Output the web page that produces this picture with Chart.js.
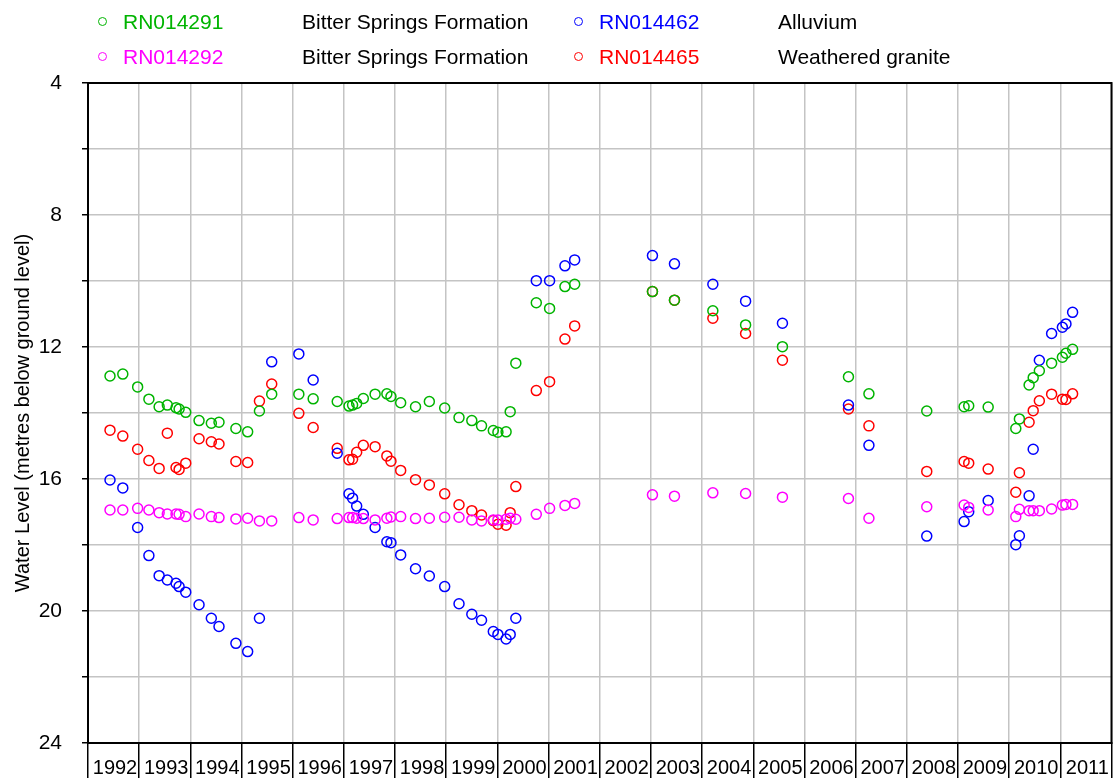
<!DOCTYPE html>
<html>
<head>
<meta charset="utf-8">
<title>Water Level</title>
<script src="https://cdn.jsdelivr.net/npm/chart.js@4"></script>
<style>
  body { margin: 0; background: #fff; }
  #wrap { position: relative; width: 1118px; height: 783px; font-family: "Liberation Sans", Arial, sans-serif; }
  canvas { position: absolute; left: 0; top: 0; }
  .lg { position: absolute; font-size: 21px; line-height: 24px; white-space: nowrap; color: #000; }
  .dot { position: absolute; width: 7px; height: 7px; border: 1.5px solid; border-radius: 50%; }
</style>
</head>
<body>
<div id="wrap">
  <canvas id="chart" width="1118" height="783"></canvas>
  <div id="legend"></div>
</div>
<script>
// fechas de medicion (año decimal)
const fechas = [
  1992.43, 1992.68, 1992.97, 1993.19, 1993.39, 1993.55, 1993.72, 1993.78, 1993.91, 1994.17,
  1994.41, 1994.56, 1994.89, 1995.12, 1995.35, 1995.59, 1996.12, 1996.40, 1996.87, 1997.10,
  1997.17, 1997.25, 1997.38, 1997.61, 1997.84, 1997.92, 1998.11, 1998.40, 1998.67, 1998.97,
  1999.25, 1999.50, 1999.69, 1999.92, 2000.01, 2000.17, 2000.25, 2000.36, 2000.76, 2001.02,
  2001.32, 2001.51, 2003.03, 2003.46, 2004.21, 2004.85, 2005.57, 2006.86, 2007.26, 2008.39,
  2009.12, 2009.21, 2009.59, 2010.13, 2010.20, 2010.39, 2010.47, 2010.59, 2010.83, 2011.04,
  2011.11, 2011.24
];

// nivel (metros bajo el suelo) por pozo
const rn014291 = [
  12.88, 12.82, 13.21, 13.58, 13.81, 13.76, 13.84, 13.88, 13.98, 14.23,
  14.31, 14.28, 14.47, 14.57, 13.94, 13.43, 13.43, 13.57, 13.65, 13.79,
  13.76, 13.71, 13.56, 13.43, 13.42, 13.50, 13.69, 13.81, 13.65, 13.85,
  14.14, 14.23, 14.39, 14.53, 14.58, 14.57, 13.96, 12.49, 10.66, 10.83,
  10.17, 10.10, 10.32, 10.58, 10.90, 11.33, 11.99, 12.90, 13.42, 13.94,
  13.81, 13.78, 13.82, 14.47, 14.18, 13.15, 12.93, 12.72, 12.49, 12.31,
  12.19, 12.07
];
const rn014292 = [
  16.94, 16.94, 16.89, 16.94, 17.02, 17.06, 17.06, 17.07, 17.14, 17.06,
  17.14, 17.17, 17.21, 17.19, 17.27, 17.27, 17.17, 17.24, 17.20, 17.17,
  17.17, 17.19, 17.20, 17.24, 17.19, 17.15, 17.14, 17.20, 17.19, 17.16,
  17.16, 17.24, 17.27, 17.24, 17.24, 17.22, 17.19, 17.22, 17.07, 16.89,
  16.80, 16.74, 16.48, 16.52, 16.42, 16.44, 16.55, 16.59, 17.19, 16.84,
  16.79, 16.86, 16.94, 17.14, 16.92, 16.96, 16.96, 16.96, 16.91, 16.79,
  16.77, 16.77
];
const rn014462 = [
  16.03, 16.27, 17.47, 18.32, 18.93, 19.06, 19.16, 19.26, 19.43, 19.81,
  20.22, 20.47, 20.98, 21.23, 20.22, 12.45, 12.21, 13.00, 15.22, 16.45,
  16.58, 16.82, 17.07, 17.47, 17.90, 17.93, 18.30, 18.72, 18.94, 19.26,
  19.78, 20.10, 20.28, 20.62, 20.71, 20.85, 20.71, 20.22, 9.99, 9.99,
  9.54, 9.36, 9.23, 9.48, 10.10, 10.61, 11.28, 13.76, 14.98, 17.73,
  17.29, 16.99, 16.65, 17.99, 17.72, 16.51, 15.10, 12.40, 11.59, 11.40,
  11.30, 10.95
];
const rn014465 = [
  14.52, 14.70, 15.10, 15.44, 15.68, 14.61, 15.65, 15.71, 15.52, 14.78,
  14.87, 14.94, 15.47, 15.50, 13.64, 13.12, 14.01, 14.44, 15.07, 15.42,
  15.40, 15.19, 14.98, 15.02, 15.30, 15.46, 15.74, 16.02, 16.18, 16.45,
  16.78, 16.96, 17.09, 17.26, 17.37, 17.40, 17.02, 16.23, 13.32, 13.05,
  11.76, 11.36, 10.32, 10.58, 11.13, 11.59, 12.40, 13.88, 14.39, 15.77,
  15.47, 15.52, 15.70, 16.40, 15.81, 14.28, 13.93, 13.63, 13.43, 13.58,
  13.59, 13.42
];

const pozos = ["RN014291", "RN014292", "RN014462", "RN014465"];
const geologia = ["Bitter Springs Formation", "Bitter Springs Formation", "Alluvium", "Weathered granite"];
const colores = ["#00b400", "#ff00ff", "#0000ff", "#ff0000"];
const niveles = [rn014291, rn014292, rn014462, rn014465];

// Leyenda (dos columnas, dos filas)
const leyenda = document.getElementById("legend");
const posLeyenda = [
  { cx: 103, cy: 22, lab: 123, geo: 302 },
  { cx: 103, cy: 57, lab: 123, geo: 302 },
  { cx: 579, cy: 22, lab: 599, geo: 778 },
  { cx: 579, cy: 57, lab: 599, geo: 778 }
];
pozos.forEach((p, i) => {
  const pos = posLeyenda[i];
  leyenda.innerHTML += `
    <div class="dot" style="left:${pos.cx - 5}px;top:${pos.cy - 5}px;border-color:${colores[i]}"></div>
    <span class="lg" style="left:${pos.lab}px;top:${pos.cy - 12}px;color:${colores[i]}">${p}</span>
    <span class="lg" style="left:${pos.geo}px;top:${pos.cy - 12}px">${geologia[i]}</span>`;
});

// marco negro alrededor del area del grafico
const marco = {
  id: "marco",
  afterDraw(chart) {
    const { ctx, chartArea: a } = chart;
    ctx.save();
    ctx.strokeStyle = "#000";
    ctx.lineWidth = 2;
    ctx.strokeRect(a.left, a.top, a.right - a.left, a.bottom - a.top);
    ctx.restore();
  }
};

const fuente = "'Liberation Sans', Arial, sans-serif";

new Chart(document.getElementById("chart"), {
  type: "scatter",
  data: {
    datasets: niveles.map((serie, i) => ({
      label: pozos[i],
      data: fechas.map((f, j) => ({ x: f, y: serie[j] })).filter(d => d.y !== null),
      borderColor: colores[i],
      backgroundColor: "rgba(0,0,0,0)",
      pointRadius: 5,
      pointBorderWidth: 1.5,
      pointHoverRadius: 5,
      showLine: false
    }))
  },
  options: {
    responsive: false,
    animation: false,
    layout: { padding: { top: 83, right: 6, left: 0, bottom: 0 } },
    plugins: { legend: { display: false }, tooltip: { enabled: false } },
    scales: {
      x: {
        type: "linear",
        min: 1992,
        max: 2012,
        afterFit: axis => { axis.height = 40; },
        ticks: {
          stepSize: 1,
          autoSkip: false,
          maxRotation: 0,
          minRotation: 0,
          labelOffset: 27,
          padding: -22,
          color: "#000",
          font: { family: fuente, size: 20 },
          callback: v => (v < 2012 ? String(v) : "")
        },
        grid: { color: "#c4c4c4", lineWidth: 1.5, tickColor: "#000", tickLength: 35, tickWidth: 1.5 },
        border: { color: "#000", width: 2 }
      },
      y: {
        reverse: true,
        min: 4,
        max: 24,
        afterFit: axis => { axis.width = 88; },
        ticks: {
          stepSize: 2,
          padding: 20,
          color: "#000",
          font: { family: fuente, size: 21 },
          callback: v => (v % 4 === 0 ? String(v) : "")
        },
        grid: { color: "#c4c4c4", lineWidth: 1.5, tickColor: "#000", tickLength: 6, tickWidth: 1.5 },
        border: { color: "#000", width: 2 },
        title: {
          display: true,
          text: "Water Level (metres below ground level)",
          color: "#000",
          font: { family: fuente, size: 20 },
          padding: { top: 11, bottom: 0 }
        }
      }
    }
  },
  plugins: [marco]
});
</script>
</body>
</html>
